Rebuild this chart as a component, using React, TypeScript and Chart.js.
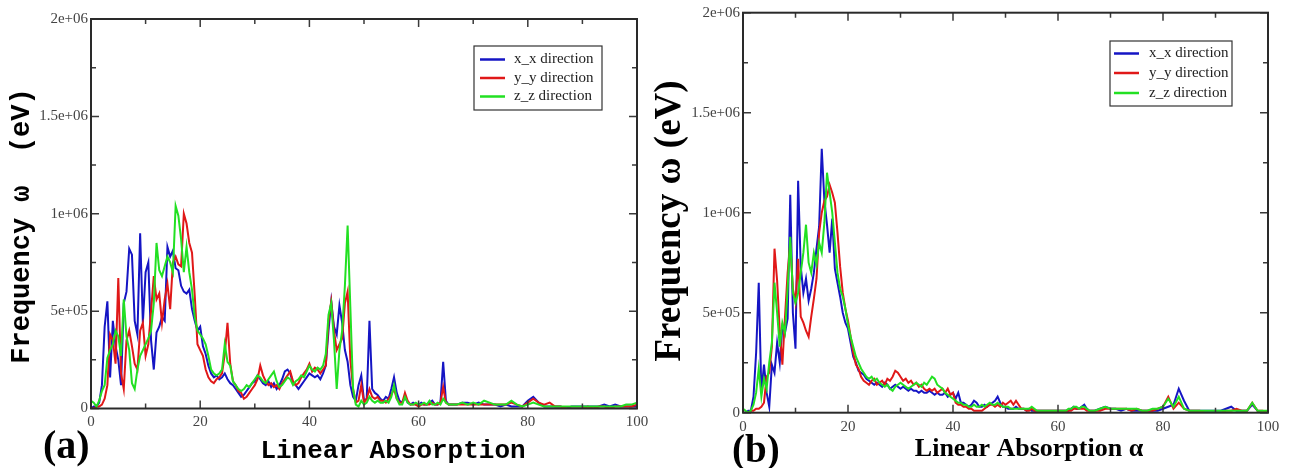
import React, { useEffect, useRef } from "react";
import { Chart, registerables } from "chart.js";
Chart.register(...registerables);

// x positions (Linear Absorption): 0..66 step 0.5, then 67..100 step 1
const X_GRID = [
  0, 0.5, 1, 1.5, 2, 2.5, 3, 3.5, 4, 4.5,
  5, 5.5, 6, 6.5, 7, 7.5, 8, 8.5, 9, 9.5,
  10, 10.5, 11, 11.5, 12, 12.5, 13, 13.5, 14, 14.5,
  15, 15.5, 16, 16.5, 17, 17.5, 18, 18.5, 19, 19.5,
  20, 20.5, 21, 21.5, 22, 22.5, 23, 23.5, 24, 24.5,
  25, 25.5, 26, 26.5, 27, 27.5, 28, 28.5, 29, 29.5,
  30, 30.5, 31, 31.5, 32, 32.5, 33, 33.5, 34, 34.5,
  35, 35.5, 36, 36.5, 37, 37.5, 38, 38.5, 39, 39.5,
  40, 40.5, 41, 41.5, 42, 42.5, 43, 43.5, 44, 44.5,
  45, 45.5, 46, 46.5, 47, 47.5, 48, 48.5, 49, 49.5,
  50, 50.5, 51, 51.5, 52, 52.5, 53, 53.5, 54, 54.5,
  55, 55.5, 56, 56.5, 57, 57.5, 58, 58.5, 59, 59.5,
  60, 60.5, 61, 61.5, 62, 62.5, 63, 63.5, 64, 64.5,
  65, 65.5, 66,
  67, 68, 69, 70, 71, 72, 73, 74, 75, 76,
  77, 78, 79, 80, 81, 82, 83, 84, 85, 86,
  87, 88, 89, 90, 91, 92, 93, 94, 95, 96,
  97, 98, 99, 100,
];

// values in units of 1e4 (frequency)
// panel (a)
const A_XX = [
  0, 1, 1, 3, 12, 42, 55, 16, 45, 32,
  25, 12, 54, 60, 82, 79, 45, 38, 90, 44,
  70, 75, 35, 20, 39, 42, 47, 45, 83, 78,
  81, 72, 71, 63, 60, 59, 61, 51, 45, 40,
  42, 32, 28, 22, 18, 16, 17, 15, 16, 18,
  15, 13, 12, 10, 8, 6, 7, 9, 11, 13,
  14, 17, 15, 13, 12, 14, 11, 13, 10, 12,
  15, 19, 20, 18, 13, 12, 10, 12, 14, 16,
  18, 17, 16, 17, 15, 18, 22, 40, 55, 42,
  38, 53, 44, 30, 24, 12, 6, 4, 12, 17,
  4, 5, 45, 10, 8, 7, 5, 4, 6, 5,
  10, 16, 8, 4, 3, 6, 3, 2, 3, 2,
  2, 3, 2, 2, 3, 4, 2, 2, 3, 24,
  4, 2, 2,
  2, 3, 3, 2, 3, 2, 2, 2, 1, 2,
  1, 1, 1, 4, 6, 3, 1, 1, 1, 1,
  0, 1, 1, 1, 1, 1, 1, 2, 1, 2,
  1, 1, 1, 1,
];
const A_YY = [
  0, 0, 1, 1, 2, 5, 12, 38, 35, 23,
  67, 18, 10, 35, 40, 32, 23, 20, 40, 44,
  27, 33, 50, 68, 56, 59, 44, 56, 64, 51,
  75, 78, 74, 73, 100, 95, 85, 80, 58, 33,
  30, 27, 20, 16, 14, 13, 15, 16, 18, 28,
  44, 23, 14, 12, 9, 8, 5, 6, 8, 10,
  12, 15, 22, 17, 14, 12, 13, 11, 12, 10,
  13, 15, 17, 19, 14, 12, 13, 16, 18, 20,
  23, 19, 21, 20, 18, 20, 22, 45, 55, 40,
  30, 33, 36, 54, 60, 25, 10, 3, 4, 12,
  3, 5, 10, 6, 5, 6, 4, 4, 3, 5,
  7, 10, 5, 3, 3, 8, 4, 2, 2, 2,
  1, 2, 2, 2, 2, 3, 2, 2, 3, 11,
  3, 2, 2,
  2, 2, 2, 2, 2, 2, 2, 2, 2, 2,
  3, 2, 1, 3, 5, 3, 2, 3, 1, 1,
  0, 0, 0, 0, 1, 0, 1, 1, 0, 1,
  1, 1, 1, 2,
];
const A_ZZ = [
  4, 3, 1, 4, 9, 12, 26, 30, 33, 40,
  37, 27, 56, 37, 30, 13, 10, 20, 27, 30,
  33, 36, 40, 54, 85, 71, 68, 73, 78, 75,
  70, 104, 99, 87, 70, 83, 70, 61, 47, 40,
  38, 36, 33, 27, 20, 18, 17, 18, 20, 33,
  24, 22, 14, 12, 10, 9, 10, 12, 11, 13,
  15, 17, 16, 14, 13, 15, 17, 19, 14, 11,
  12, 14, 16, 15, 12, 14, 15, 17, 16, 19,
  22, 20, 19, 21, 20, 22, 28, 48, 54, 35,
  10, 30, 40, 63, 94, 52, 10, 2, 1, 4,
  2, 3, 6, 4, 3, 4, 3, 3, 4, 3,
  6, 12, 5, 2, 2, 6, 3, 2, 2, 3,
  2, 2, 3, 2, 4, 2, 2, 3, 2, 5,
  3, 2, 2,
  2, 3, 2, 3, 2, 4, 3, 2, 2, 2,
  4, 2, 1, 2, 3, 2, 1, 1, 1, 1,
  1, 1, 1, 1, 1, 1, 1, 1, 1, 1,
  1, 2, 2, 3,
];
// panel (b)
const B_XX = [
  0, 0, 1, 1, 8, 30, 65, 10, 24, 10,
  3, 24, 20, 35, 25, 43, 40, 47, 109, 50,
  32, 116, 73, 60, 67, 56, 62, 70, 82, 93,
  132, 106, 94, 80, 97, 72, 65, 58, 50, 45,
  42, 35, 28, 25, 21, 20, 19, 17, 16, 15,
  14, 15, 14, 13, 15, 14, 12, 13, 14, 13,
  12, 13, 12, 11, 12, 11, 11, 10, 11, 10,
  10, 11, 10, 9, 10, 9, 9, 10, 8, 9,
  10, 7, 10, 5, 5, 4, 3, 4, 6, 5,
  3, 3, 4, 3, 4, 5, 6, 8, 5, 3,
  3, 2, 2, 2, 3, 2, 2, 2, 1, 2,
  1, 1, 1, 1, 1, 1, 1, 1, 1, 1,
  1, 1, 1, 1, 1, 2, 3, 2, 2, 3,
  4, 2, 1,
  1, 2, 3, 2, 2, 1, 2, 1, 1, 1,
  1, 1, 1, 2, 3, 4, 12, 6, 1, 1,
  1, 1, 1, 1, 1, 2, 3, 1, 1, 1,
  4, 1, 0, 0,
];
const B_YY = [
  0, 0, 0, 1, 1, 2, 2, 3, 5, 18,
  20, 33, 82, 66, 41, 24, 48, 70, 85, 62,
  55, 77, 48, 45, 41, 38, 48, 57, 67, 90,
  100, 106, 108, 114, 110, 105, 90, 73, 60, 52,
  46, 38, 30, 24, 22, 18, 16, 15, 14, 16,
  17, 14, 15, 16, 14, 17, 16, 18, 21, 20,
  18, 16, 17, 15, 16, 14, 15, 13, 14, 12,
  11, 12, 11, 12, 10, 11, 12, 10, 12, 9,
  10, 5, 4, 4, 3, 3, 2, 2, 1, 1,
  1, 1, 2, 3, 4, 4, 3, 4, 3, 5,
  4, 5, 6, 4, 6, 4, 2, 2, 1, 1,
  2, 1, 1, 1, 1, 1, 1, 1, 1, 1,
  1, 1, 1, 1, 1, 1, 2, 2, 2, 2,
  2, 1, 1,
  1, 1, 2, 2, 2, 2, 2, 1, 2, 1,
  1, 1, 2, 3, 8, 2, 5, 2, 1, 1,
  1, 0, 0, 0, 0, 1, 1, 2, 1, 1,
  5, 1, 1, 0,
];
const B_ZZ = [
  2, 1, 0, 1, 4, 10, 22, 8, 17, 12,
  25, 35, 65, 50, 33, 45, 40, 62, 88, 60,
  55, 60, 70, 80, 94, 75, 70, 80, 74, 85,
  80, 95, 120, 110, 100, 85, 70, 62, 58, 52,
  44, 38, 33, 28, 25, 22, 20, 18, 17, 18,
  16, 17, 15, 14, 13, 14, 12, 11, 13, 14,
  15, 14, 13, 12, 13, 14, 15, 14, 13, 15,
  14, 16, 18, 17, 14, 13, 12, 10, 9, 8,
  7, 6, 5, 5, 4, 4, 3, 3, 4, 3,
  3, 4, 3, 4, 5, 4, 4, 5, 4, 3,
  3, 3, 2, 2, 2, 2, 2, 2, 2, 2,
  3, 2, 1, 1, 1, 1, 1, 1, 1, 1,
  1, 1, 1, 1, 2, 2, 3, 3, 2, 3,
  3, 2, 1,
  1, 2, 3, 2, 2, 2, 2, 2, 2, 1,
  1, 2, 2, 3, 7, 3, 8, 2, 1, 1,
  1, 1, 1, 1, 1, 1, 1, 1, 1, 1,
  5, 1, 1, 1,
];

const VALUE_UNIT = 1e4;
const SERIES_LABELS = ["x_x direction", "y_y direction", "z_z direction"];
const SERIES_COLORS = ["#1515c4", "#e01818", "#22e022"];

const X_TICK_MARKS = [0, 10, 20, 30, 40, 50, 60, 70, 80, 90, 100];
const Y_TICK_MARKS = [0, 250000, 500000, 750000, 1000000, 1250000, 1500000, 1750000, 2000000];
const Y_LABEL_VALUES = [0, 500000, 1000000, 1500000, 2000000];
const Y_LABEL_TEXT = ["0", "5e+05", "1e+06", "1.5e+06", "2e+06"];

const W = 1290;
const H = 468;
const YW = 60;
const XH = 30;

type Txt = { text: string; x: number; y: number; font: string; align?: CanvasTextAlign; baseline?: CanvasTextBaseline; rotate?: boolean };

const framePlugin = {
  id: "frameTicks",
  afterDatasetsDraw(chart: any) {
    const { ctx, chartArea } = chart;
    const { left, right, top, bottom } = chartArea;
    const xs = chart.scales.x;
    const ys = chart.scales.y;
    ctx.save();
    ctx.strokeStyle = "#3a3a3a";
    ctx.lineWidth = 1.5;
    ctx.beginPath();
    X_TICK_MARKS.forEach((v) => {
      const px = xs.getPixelForValue(v);
      const len = v % 20 === 0 ? 8 : 5;
      ctx.moveTo(px, bottom);
      ctx.lineTo(px, bottom - len);
      ctx.moveTo(px, top);
      ctx.lineTo(px, top + len);
    });
    Y_TICK_MARKS.forEach((v) => {
      const py = ys.getPixelForValue(v);
      const len = v % 500000 === 0 ? 8 : 5;
      ctx.moveTo(left, py);
      ctx.lineTo(left + len, py);
      ctx.moveTo(right, py);
      ctx.lineTo(right - len, py);
    });
    ctx.stroke();
    ctx.lineWidth = 2;
    ctx.strokeStyle = "#2a2a2a";
    ctx.strokeRect(left, top, right - left, bottom - top);
    ctx.restore();
  },
};

const legendPlugin = {
  id: "boxLegend",
  afterDraw(chart: any, _args: any, opts: any) {
    if (!opts || !opts.box) return;
    const { ctx } = chart;
    const b = opts.box;
    ctx.save();
    ctx.fillStyle = "#ffffff";
    ctx.fillRect(b.x, b.y, b.w, b.h);
    ctx.strokeStyle = "#333";
    ctx.lineWidth = 1.2;
    ctx.strokeRect(b.x, b.y, b.w, b.h);
    ctx.font = "15px 'Liberation Serif'";
    ctx.textBaseline = "middle";
    ctx.textAlign = "left";
    SERIES_LABELS.forEach((lab, i) => {
      const ry = b.rows[i];
      ctx.strokeStyle = SERIES_COLORS[i];
      ctx.lineWidth = 2.5;
      ctx.beginPath();
      ctx.moveTo(b.lx1, ry);
      ctx.lineTo(b.lx2, ry);
      ctx.stroke();
      ctx.fillStyle = "#222";
      ctx.fillText(lab, b.tx, ry);
    });
    ctx.restore();
  },
};

const textPlugin = {
  id: "freeText",
  afterDraw(chart: any, _args: any, opts: any) {
    if (!opts || !opts.items) return;
    const { ctx } = chart;
    ctx.save();
    (opts.items as Txt[]).forEach((t) => {
      ctx.save();
      ctx.font = t.font;
      ctx.fillStyle = "#000";
      ctx.textAlign = t.align || "left";
      ctx.textBaseline = t.baseline || "alphabetic";
      if (t.rotate) {
        ctx.translate(t.x, t.y);
        ctx.rotate(-Math.PI / 2);
        ctx.fillText(t.text, 0, 0);
      } else {
        ctx.fillText(t.text, t.x, t.y);
      }
      ctx.restore();
    });
    ctx.restore();
  },
};

type Panel = {
  area: { left: number; right: number; top: number; bottom: number };
  series: number[][];
  legend: any;
  texts: Txt[];
};

const PANELS: Panel[] = [
  {
    area: { left: 91, right: 637, top: 19, bottom: 408.5 },
    series: [A_XX, A_YY, A_ZZ],
    legend: { x: 474, y: 46, w: 128, h: 64, rows: [59.5, 78, 96.5], lx1: 480, lx2: 505, tx: 514 },
    texts: [
      { text: "Linear Absorption", x: 393, y: 458, font: "bold 26px 'Liberation Mono'", align: "center" },
      { text: "Frequency \u03c9  (eV)", x: 22, y: 226, font: "bold 27px 'Liberation Mono'", align: "center", baseline: "middle", rotate: true },
      { text: "(a)", x: 43, y: 458, font: "bold 40px 'Liberation Serif'" },
    ],
  },
  {
    area: { left: 743, right: 1268, top: 12.7, bottom: 412.7 },
    series: [B_XX, B_YY, B_ZZ],
    legend: { x: 1110, y: 41, w: 122, h: 65, rows: [53.5, 73, 93], lx1: 1114, lx2: 1139, tx: 1149 },
    texts: [
      { text: "Linear Absorption \u03b1", x: 1029, y: 456, font: "bold 26px 'Liberation Serif'", align: "center" },
      { text: "Frequency \u03c9 (eV)", x: 670, y: 221, font: "bold 37px 'Liberation Serif'", align: "center", baseline: "middle", rotate: true },
      { text: "(b)", x: 732, y: 462, font: "bold 39px 'Liberation Serif'" },
    ],
  },
];

function makeConfig(p: Panel): any {
  const datasets = p.series.map((vals, i) => ({
    label: SERIES_LABELS[i],
    data: X_GRID.map((x, k) => ({ x, y: vals[k] * VALUE_UNIT })),
    borderColor: SERIES_COLORS[i],
    backgroundColor: SERIES_COLORS[i],
    borderWidth: 2,
    pointRadius: 0,
    tension: 0,
    fill: false,
    order: 2 - i,
  }));
  const tickFont = { family: "'Liberation Serif'", size: 15 };
  return {
    type: "line",
    data: { datasets },
    options: {
      animation: false,
      responsive: false,
      devicePixelRatio: 1,
      events: [],
      layout: {
        padding: {
          left: p.area.left - YW,
          right: W - p.area.right,
          top: p.area.top,
          bottom: H - p.area.bottom - XH,
        },
      },
      scales: {
        x: {
          type: "linear",
          min: 0,
          max: 100,
          afterFit: (s: any) => {
            s.height = XH;
          },
          ticks: {
            stepSize: 20,
            autoSkip: false,
            maxRotation: 0,
            padding: 5,
            color: "#444",
            font: tickFont,
            callback: (v: any) => String(v),
          },
          grid: { display: false, drawTicks: false },
          border: { display: false },
        },
        y: {
          type: "linear",
          min: 0,
          max: 2000000,
          afterFit: (s: any) => {
            s.width = YW;
          },
          ticks: {
            stepSize: 500000,
            autoSkip: false,
            padding: 3,
            color: "#444",
            font: tickFont,
            callback: (v: any) => {
              const idx = Y_LABEL_VALUES.indexOf(Number(v));
              return idx >= 0 ? Y_LABEL_TEXT[idx] : "";
            },
          },
          grid: { display: false, drawTicks: false },
          border: { display: false },
        },
      },
      plugins: {
        legend: { display: false },
        tooltip: { enabled: false },
        boxLegend: { box: p.legend },
        freeText: { items: p.texts },
      },
    },
    plugins: [framePlugin, legendPlugin, textPlugin],
  };
}

function PanelCanvas({ panel, z }: { panel: Panel; z: number }) {
  const ref = useRef<HTMLCanvasElement | null>(null);
  useEffect(() => {
    if (!ref.current) return;
    const chart = new Chart(ref.current, makeConfig(panel));
    return () => chart.destroy();
  }, [panel]);
  return (
    <canvas
      ref={ref}
      width={W}
      height={H}
      style={{ position: "absolute", left: 0, top: 0, width: W, height: H, zIndex: z }}
    />
  );
}

export default function App() {
  return (
    <div style={{ position: "absolute", left: 0, top: 0, width: W, height: H, background: "#fff", overflow: "hidden" }}>
      <PanelCanvas panel={PANELS[0]} z={1} />
      <PanelCanvas panel={PANELS[1]} z={2} />
    </div>
  );
}
